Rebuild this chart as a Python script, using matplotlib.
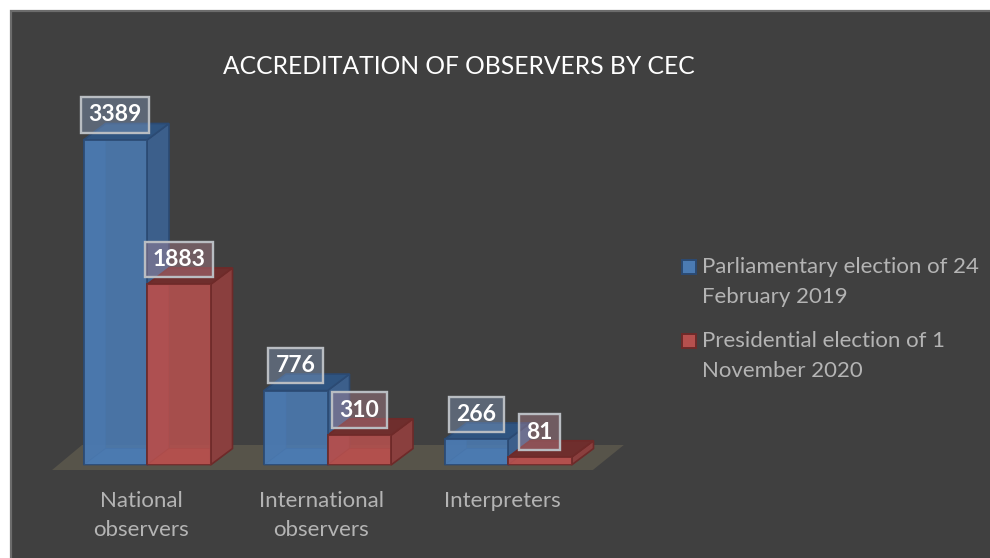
import matplotlib
matplotlib.use("Agg")
import matplotlib.pyplot as plt
from matplotlib.legend_handler import HandlerPatch
from matplotlib.patches import Polygon, Rectangle
import numpy as np

categories = ["National\nobservers", "International\nobservers", "Interpreters"]
parliamentary = [3389, 776, 266]
presidential = [1883, 310, 81]
series_names = ["Parliamentary election of 24\nFebruary 2019", "Presidential election of 1\nNovember 2020"]
title = "ACCREDITATION OF OBSERVERS BY CEC"

plt.rcParams['font.family'] = ['Lato', 'DejaVu Sans']

W, H = 990, 558
BG = "#404040"
fig = plt.figure(figsize=(W / 100, H / 100), dpi=100, facecolor="white")
fig.add_artist(Rectangle((10.5 / W, -0.01), 1, 1 - 10.5 / H + 0.01, transform=fig.transFigure,
                         facecolor=BG, edgecolor="#6c6c6c", linewidth=1.6, zorder=-1))

# axes baseline sits on the front of the bars
left, right, top, base = 50, 640, 20, 465
ax = fig.add_axes([left / W, 1 - base / H, (right - left) / W, (base - top) / H])
ax.patch.set_alpha(0)
px_x = 180.5
px_y = 0.0959
ax.set_xlim((left - 147) / px_x, (right - 147) / px_x)
ax.set_ylim(0, (base - top) / px_y)

bar_w = 63.5 / px_x
dx = 22 / px_x
dy = 16.5 / px_y


def box(x0, h, front, side, topc, edge):
    x1 = x0 + bar_w
    # back walls, seen through the front face
    ax.add_patch(Polygon([(x0, 0), (x0 + dx, dy), (x0 + dx, h + dy), (x0, h)], closed=True,
                         facecolor=front, edgecolor=edge, lw=0.6, alpha=0.55, clip_on=False, zorder=3))
    ax.add_patch(Polygon([(x0, 0), (x1, 0), (x1 + dx, dy), (x0 + dx, dy)], closed=True,
                         facecolor=front, edgecolor=edge, lw=0.6, alpha=0.8, clip_on=False, zorder=3))
    ax.add_patch(Polygon([(x1, 0), (x1 + dx, dy), (x1 + dx, h + dy), (x1, h)], closed=True,
                         facecolor=side, edgecolor=edge, lw=1.2, clip_on=False, zorder=3))
    ax.add_patch(Polygon([(x0, h), (x1, h), (x1 + dx, h + dy), (x0 + dx, h + dy)], closed=True,
                         facecolor=topc, edgecolor=edge, lw=1.2, clip_on=False, zorder=3))


class FirstLineHandler(HandlerPatch):
    # square next to the first line of a two line label
    def create_artists(self, legend, orig_handle, xdescent, ydescent, width, height, fontsize, trans):
        p = Rectangle((-xdescent, -ydescent + 11), width, height,
                      facecolor=orig_handle.get_facecolor(), edgecolor=orig_handle.get_edgecolor(),
                      linewidth=1.4, transform=trans)
        return [p]


x = np.arange(len(categories))

# floor
fx0, fx1 = -0.526, 2.47
ax.add_patch(Polygon([(fx0, -5 / px_y), (fx1, -5 / px_y), (fx1 + 31 / px_x, 20 / px_y), (fx0 + 30 / px_x, 20 / px_y)],
                     closed=True, facecolor="#57544a", edgecolor="none", clip_on=False, zorder=1))

blue = dict(front="#4b7bb3", side="#3c5f8b", topc="#2f5480", edge="#2b4a73")
red = dict(front="#b5504e", side="#8a3f3e", topc="#6f2e2d", edge="#6e2a29")

for i in x:
    box(i - bar_w, parliamentary[i], **blue)
    ax.bar(i - bar_w / 2, parliamentary[i], bar_w, color=blue["front"], alpha=0.88,
           edgecolor=blue["edge"], linewidth=1.4, zorder=4)
    box(i, presidential[i], **red)
    ax.bar(i + bar_w / 2, presidential[i], bar_w, color=red["front"], alpha=0.88,
           edgecolor=red["edge"], linewidth=1.4, zorder=4)

# value labels
for i in x:
    for xpos, val, fc in [(i - bar_w / 2, parliamentary[i], (0.55, 0.65, 0.8, 0.38)),
                          (i + bar_w / 2, presidential[i], (0.75, 0.55, 0.6, 0.38))]:
        ax.annotate(str(val), (xpos, val), xytext=(0, 19.5), textcoords="offset points",
                    ha="center", va="center_baseline", color="white", fontsize=16.5, fontweight="bold", zorder=6,
                    bbox=dict(boxstyle="square,pad=0.32", facecolor=fc, edgecolor="#b9bdc2", linewidth=1.7))

ax.set_xticks(x - 6 / px_x)
ax.set_xticklabels(categories, color="#b4b4b4", fontsize=16, linespacing=1.6)
ax.tick_params(axis="x", length=0, pad=18.5)
ax.set_yticks([])
for s in ax.spines.values():
    s.set_visible(False)

fig.text(458.5 / W, 1 - 66 / H, title, color="white", fontsize=17.7, ha="center", va="center")

handles = [Rectangle((0, 0), 1, 1, facecolor=blue["front"], edgecolor=blue["edge"]),
           Rectangle((0, 0), 1, 1, facecolor=red["front"], edgecolor=red["edge"])]
leg = fig.legend(handles, series_names, loc="upper left", bbox_to_anchor=(678 / W, 1 - 253 / H),
                 frameon=False, fontsize=16, labelcolor="#b4b4b4", handlelength=0.6, handleheight=0.6,
                 handletextpad=0.28, labelspacing=1.1, borderpad=0.2, borderaxespad=0,
                 handler_map={Rectangle: FirstLineHandler()})
for t in leg.get_texts():
    t.set_linespacing(1.6)

fig.savefig("out.png", dpi=100, facecolor="white")
